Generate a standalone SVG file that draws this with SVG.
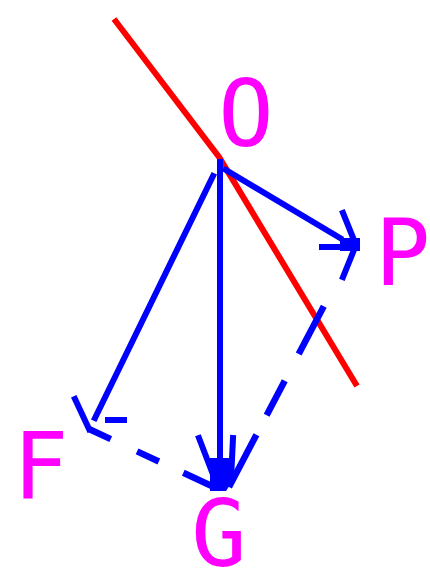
<svg xmlns="http://www.w3.org/2000/svg" width="430" height="574" viewBox="0 0 430 574">
<style>
.lbl{font-family:"DejaVu Sans Mono","Liberation Mono",monospace;font-size:92px;fill:#ff00ff}
.red{stroke:#ff0000;stroke-width:6;fill:none;stroke-linejoin:miter}
.b{stroke:#0000ff;stroke-width:6;fill:none;stroke-linecap:square;stroke-linejoin:miter}
.bd{stroke:#0000ff;stroke-width:6.5;fill:none;stroke-linecap:butt}
.tip{fill:#0000ff}
</style>
<rect width="430" height="574" fill="#ffffff"/>
<g id="connectors">
  <polyline id="redline" class="red" points="114,19 219,157 357,386"/>
  <line id="O-G" class="b" x1="220" y1="162" x2="220" y2="486"/>
  <polyline id="O-G-head" class="b" points="199,438 212,472"/>
  <polyline id="O-G-head2" class="b" points="233,438 231,480"/>
  <polygon class="tip" points="210,458 230,458 230,485 226,491 210,491"/>
  <line id="O-P" class="b" x1="226" y1="170" x2="340" y2="238"/>
  <line class="b" x1="322" y1="247" x2="357" y2="247"/>
  <polyline class="b" points="343,213 356,245 343,277"/>
  <polygon class="tip" points="340,238 360,238 360,251 340,251"/>
  <line id="O-F" class="b" x1="213" y1="176" x2="95" y2="418"/>
  <polyline class="b" points="75,399 89,429"/>
  <line class="b" x1="108" y1="420" x2="124" y2="420"/>
  <path id="P-G" class="bd" d="M347,262 L229,487" stroke-dasharray="0 50 54 30 39 22 60 300"/>
  <path id="F-G" class="bd" d="M89,429 L216,488" stroke-dasharray="24 29 24 27 40 300"/>
</g>
<g id="node-O"><text class="lbl" x="246" y="146" text-anchor="middle">O</text></g>
<g id="node-P"><text class="lbl" x="375" y="285">P</text></g>
<g id="node-F"><text class="lbl" x="13" y="498">F</text></g>
<g id="node-G"><text class="lbl" x="219" y="566" text-anchor="middle">G</text></g>
</svg>
